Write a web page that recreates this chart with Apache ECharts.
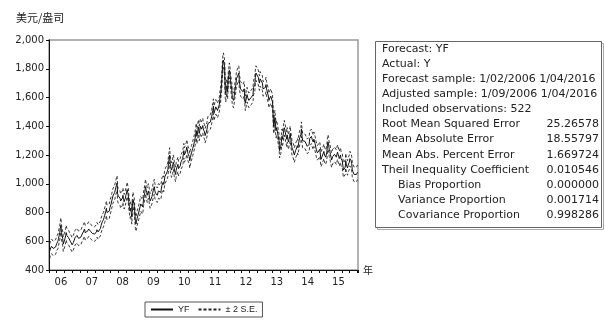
<!DOCTYPE html>
<html>
<head>
<meta charset="utf-8">
<script src="https://cdn.jsdelivr.net/npm/echarts@6/dist/echarts.min.js"></script>
<style>
  html, body { margin: 0; padding: 0; background: #fff; }
  #chart { width: 605px; height: 322px; }
</style>
</head>
<body>
<div id="chart"></div>
<script>
// Weekly static forecast of the gold price (USD/oz), one array per year
const yf2006 = [530,545,555,565, 570,560,550,555, 560,555,560,570,585, 590,600,620,640, 660,690,712,660, 640,620,580,575,590, 620,640,660,640, 640,630,625,625, 620,600,590,595, 575,580,590,595,600, 625,630,630,640, 645,630,620,625,632];
const yf2007 = [625,630,635,650, 660,665,670,685, 660,650,655,665,670, 675,685,690,680, 670,665,660,655, 665,650,655,650,650, 660,665,680,670, 665,670,665,670, 690,710,720,735, 740,750,765,780,790, 810,830,800,810, 795,800,810,835,840];
const yf2008 = [860,880,885,915, 905,915,940,950, 975,990,1005,930,915, 905,925,900,880, 870,880,900,920, 890,875,885,900,920, 935,960,940,920, 870,840,810,830, 800,770,860,890, 880,850,800,740,720, 740,760,750,790, 780,800,840,860,870];
const yf2009 = [860,840,860,900, 910,940,980,990, 940,920,910,950,930, 900,880,890,890, 910,930,950,960, 980,950,935,930,930, 920,920,950,950, 950,950,940,945, 990,1000,1010,995, 1000,1050,1055,1060,1045, 1085,1100,1140,1170, 1200,1140,1120,1095,1100];
const yf2010 = [1120,1150,1135,1095, 1080,1065,1095,1110, 1120,1135,1105,1105,1110, 1125,1150,1140,1160, 1175,1200,1230,1200, 1210,1220,1235,1255,1245, 1210,1200,1190,1160, 1180,1200,1215,1230, 1245,1255,1275,1295, 1315,1340,1370,1330,1345, 1380,1395,1350,1370, 1400,1400,1380,1385,1405];
const yf2011 = [1380,1370,1360,1335, 1345,1360,1375,1400, 1420,1425,1415,1425,1430, 1450,1465,1490,1510, 1540,1490,1495,1520, 1535,1535,1540,1510,1500, 1510,1550,1590,1610, 1620,1700,1780,1840, 1860,1870,1810,1650, 1620,1660,1680,1640,1720, 1750,1790,1770,1710, 1720,1660,1600,1590,1580];
const yf2012 = [1600,1640,1660,1690,1730, 1740,1725,1740,1770, 1710,1700,1660,1655, 1670,1660,1640,1650, 1660,1610,1560,1570,1560, 1620,1600,1610,1580, 1590,1580,1585,1600, 1610,1610,1620,1670,1660, 1690,1740,1770,1770, 1780,1760,1740,1715, 1700,1730,1720,1740, 1720,1700,1660,1660,1670];
const yf2013 = [1660,1670,1690,1660, 1670,1650,1610,1580, 1575,1590,1610,1600,1600, 1570,1560,1400,1420, 1460,1450,1370,1390, 1400,1380,1390,1300,1230, 1240,1260,1290,1330, 1310,1320,1370,1390,1395, 1390,1330,1310,1340, 1310,1290,1310,1330, 1350,1310,1285,1250, 1240,1230,1230,1200,1210];
const yf2014 = [1230,1240,1250,1265, 1250,1260,1300,1320, 1330,1340,1380,1330,1300, 1290,1300,1310,1295, 1300,1290,1295,1260, 1250,1255,1275,1315,1320, 1325,1330,1310,1300, 1290,1310,1300,1280, 1270,1240,1230,1215,1215, 1215,1225,1240,1230, 1170,1160,1190,1200, 1200,1225,1200,1195,1185];
const yf2015 = [1195,1220,1270,1290, 1270,1240,1225,1205, 1205,1165,1160,1190,1195, 1200,1205,1200,1195, 1185,1190,1220,1210, 1190,1175,1180,1200,1175, 1170,1160,1130,1095, 1090,1095,1115,1160, 1130,1120,1110,1130, 1135,1150,1175,1165,1160, 1140,1100,1085,1075, 1065,1075,1070,1075,1065];
const yf2016 = [1075,1080];

// Standard error of the forecast
const forecastSE = 25.3;

// Sample: weekly observations from 1/09/2006
const sampleStart = 2006 + 8 / 365.25;
const weekStep = 7 / 365.25;

// Axis settings
const yTicks = { min: 400, max: 2000, step: 200 };
const xRange = { min: 2006, max: 2016.02, step: 0.25 };

// Forecast evaluation table
const headerLines = [
  'Forecast: YF',
  'Actual: Y',
  'Forecast sample: 1/02/2006 1/04/2016',
  'Adjusted sample: 1/09/2006 1/04/2016',
  'Included observations: 522'
];
const statNames = [
  'Root Mean Squared Error',
  'Mean Absolute Error',
  'Mean Abs. Percent Error',
  'Theil Inequality Coefficient',
  'Bias Proportion',
  'Variance Proportion',
  'Covariance Proportion'
];
const statValues = ['25.26578', '18.55797', '1.669724', '0.010546', '0.000000', '0.001714', '0.998286'];

const yfAll = [].concat(yf2006, yf2007, yf2008, yf2009, yf2010, yf2011, yf2012, yf2013, yf2014, yf2015, yf2016);
const yfData = yfAll.map((v, i) => [sampleStart + i * weekStep, v]);
const upperData = yfAll.map((v, i) => [sampleStart + i * weekStep, v + 2 * forecastSE]);
const lowerData = yfAll.map((v, i) => [sampleStart + i * weekStep, v - 2 * forecastSE]);

const FONT = '"DejaVu Sans", Verdana, sans-serif';
const LEGEND_FONT = '"Liberation Sans", Arial, sans-serif';
const CJK = '"Noto Sans CJK SC", sans-serif';
const TEXT = '#222';

// Right-hand statistics panel
const panel = { x: 375, y: 41, w: 226, h: 186, rowTop: 49, rowH: 15.1, textX: 382, indentX: 398, valueX: 599 };
const graphics = [
  { type: 'rect', shape: { x: panel.x + 2.5, y: panel.y + 2.5, width: panel.w, height: panel.h },
    style: { fill: 'none', stroke: '#aaa', lineWidth: 1 }, silent: true },
  { type: 'rect', shape: { x: panel.x + 0.5, y: panel.y + 0.5, width: panel.w, height: panel.h },
    style: { fill: '#fff', stroke: '#666', lineWidth: 1 }, silent: true },
  { type: 'text', left: 16, top: 12,
    style: { text: '美元/盎司', font: '11px ' + CJK, fill: TEXT } }
];
headerLines.forEach((t, i) => {
  graphics.push({ type: 'text', x: panel.textX, y: panel.rowTop + i * panel.rowH,
    style: { text: t, font: '11px ' + FONT, fill: TEXT, verticalAlign: 'middle' } });
});
statNames.forEach((t, i) => {
  const row = headerLines.length + i;
  const indented = /Proportion/.test(t);
  graphics.push({ type: 'text', x: indented ? panel.indentX : panel.textX, y: panel.rowTop + row * panel.rowH,
    style: { text: t, font: '11px ' + FONT, fill: TEXT, verticalAlign: 'middle' } });
  graphics.push({ type: 'text', x: panel.valueX, y: panel.rowTop + row * panel.rowH,
    style: { text: statValues[i], font: '11px ' + FONT, fill: TEXT, align: 'right', verticalAlign: 'middle' } });
});

const chart = echarts.init(document.getElementById('chart'), null, { renderer: 'canvas' });
chart.setOption({
  animation: false,
  backgroundColor: '#fff',
  textStyle: { fontFamily: FONT },
  grid: { left: 49, right: 247, top: 40, bottom: 52, show: true, borderColor: '#999', borderWidth: 1.5, backgroundColor: '#fff' },
  legend: {
    data: ['YF', '± 2 S.E.'],
    left: 145, top: 302,
    padding: [3, 5],
    borderColor: '#555', borderWidth: 1,
    itemWidth: 22, itemHeight: 6, itemGap: 8,
    itemStyle: { opacity: 0 },
    textStyle: { fontSize: 9, color: TEXT, fontFamily: LEGEND_FONT }
  },
  xAxis: {
    type: 'value',
    min: xRange.min, max: xRange.max, interval: xRange.step,
    name: '年', nameLocation: 'end', nameGap: 5,
    nameTextStyle: { fontSize: 10, color: TEXT, fontFamily: CJK, verticalAlign: 'middle' },
    axisLine: { lineStyle: { color: '#111', width: 1 } },
    axisTick: { show: true, inside: false, length: 3, lineStyle: { color: '#111' } },
    splitLine: { show: false },
    axisLabel: {
      color: TEXT, fontSize: 10, margin: 7, padding: [0, 7, 0, 0], fontFamily: FONT,
      formatter: v => {
        const f = v - Math.floor(v);
        return Math.abs(f - 0.5) < 1e-6 ? String(Math.floor(v)).slice(2) : '';
      }
    }
  },
  yAxis: {
    type: 'value',
    min: yTicks.min, max: yTicks.max, interval: yTicks.step,
    axisLine: { show: true, lineStyle: { color: '#111', width: 1 } },
    axisTick: { show: true, inside: false, length: 3, lineStyle: { color: '#111' } },
    splitLine: { show: false },
    axisLabel: { color: TEXT, fontSize: 10, margin: 5, fontFamily: FONT, formatter: v => v.toLocaleString('en-US') }
  },
  series: [
    { name: 'YF', type: 'line', data: yfData, symbol: 'none', showSymbol: false, z: 3,
      lineStyle: { color: '#111', width: 1 } },
    { name: '± 2 S.E.', type: 'line', data: upperData, symbol: 'none', showSymbol: false, z: 2,
      lineStyle: { color: '#222', width: 0.9, type: [3, 2] } },
    { name: '± 2 S.E.', type: 'line', data: lowerData, symbol: 'none', showSymbol: false, z: 2,
      lineStyle: { color: '#222', width: 0.9, type: [3, 2] } }
  ],
  graphic: graphics
});
</script>
</body>
</html>
